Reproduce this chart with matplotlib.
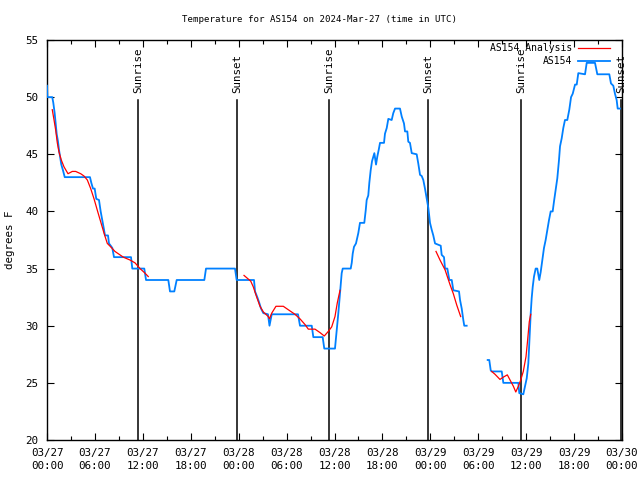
import numpy as np
import matplotlib
matplotlib.use("Agg")
import matplotlib.pyplot as plt
from matplotlib.ticker import MultipleLocator

# hours since 2024-03-27 00:00 UTC
obs_hours = [0.0, 0.05, 0.66, 0.79, 0.96, 1.09, 1.21, 1.38, 1.50, 1.63, 1.79, 2.0, 2.22,
             5.38, 5.55, 5.76, 5.97, 6.17, 6.51, 6.72, 6.92, 7.14, 7.26, 7.64, 7.76, 7.98,
             8.18, 8.39, 10.52, 10.68, 12.18, 12.40, 15.19, 15.40, 15.94, 16.24, 19.70,
             19.91, 23.54, 23.75, 25.92, 26.05, 26.33, 26.58, 26.80, 27.09, 27.67, 27.86,
             28.14, 31.43, 31.68, 33.15, 33.35, 34.52, 34.72, 36.06, 36.28, 36.48, 36.69,
             36.90, 37.03, 38.03, 38.16, 38.28, 38.44, 38.69, 38.98, 39.19, 39.73, 39.91,
             40.03, 40.23, 40.36, 40.53, 40.70, 40.86, 40.99, 41.20, 41.36, 41.54, 41.70,
             42.20, 42.32, 42.54, 42.74, 43.16, 43.36, 43.58, 44.20, 44.42, 44.70, 44.83,
             45.12, 45.24, 45.45, 45.67, 46.29, 46.49, 46.71, 46.92, 47.12, 47.33, 47.55,
             47.75, 47.96, 48.17, 48.37, 48.59, 49.30, 49.42, 49.71, 49.84, 50.13, 50.38,
             50.68, 50.88, 51.59, 51.72, 51.93, 52.13, 52.25, 52.55, 53.8,
             55.18, 55.38, 55.56, 55.68, 56.94, 57.14, 59.02, 59.14, 59.64, 59.85, 60.07,
             60.27, 60.39, 60.57, 60.69, 60.82, 60.98, 61.19, 61.39, 61.64, 61.82, 62.02,
             62.23, 62.44, 62.65, 62.86, 63.07, 63.32, 63.49, 63.70, 63.90, 64.11, 64.24,
             64.45, 64.65, 64.86, 65.15, 65.40, 65.62, 65.83, 66.12, 66.33, 66.53, 67.37,
             67.58, 68.62, 68.91, 70.41, 70.62, 70.91, 71.12, 71.33, 71.46, 71.75]
obs_temps = [51, 50, 50, 49.5, 48.6, 47.7, 46.8, 46.1, 45.4, 44.8, 44.1, 43.6, 43,
             43, 42.5, 42, 42, 41.1, 41, 40, 39.25, 38.4, 37.9, 37.9, 37.2, 37,
             36.8, 36, 36, 35, 35, 34, 34, 33, 33, 34, 34,
             35, 35, 34, 34, 33, 32.5, 32, 31.5, 31.1, 31, 30,
             31, 31, 30, 30, 29, 29, 28, 28, 29.6, 31.1, 32.8,
             34.6, 35, 35, 35.5, 36.3, 36.9, 37.2, 38.1, 39, 39, 40.1,
             41, 41.4, 42.5, 43.6, 44.4, 44.8, 45.1, 44.1, 44.8, 45.4, 46,
             46, 46.8, 47.3, 48.1, 48, 48.6, 49, 49, 48.3, 47.7, 47,
             47, 46.1, 46, 45.1, 45, 44.2, 43.2, 43.1, 42.75, 42, 41.1,
             40.3, 39, 38.4, 37.9, 37.2, 37, 36.2, 36, 35, 35, 34,
             34, 33.1, 33, 32.25, 31.5, 30.5, 30, 30, np.nan,
             27, 27, 26.1, 26, 26, 25, 25, 24.1, 24, 24.7, 25.4,
             26.7, 28.5, 31.1, 32.4, 33.4, 34.3, 35, 35, 34, 34.7, 35.75,
             36.8, 37.5, 38.4, 39.25, 40, 40, 40.9, 41.9, 42.9, 44.5, 45.7,
             46.4, 47.3, 48, 48, 48.9, 50, 50.3, 51.1, 51.1, 52.1, 52,
             53, 53, 52, 52, 51.2, 51, 50.3, 49.75, 49, 49]

ana_hours = [0.66, 0.88, 1.09, 1.29, 1.50, 1.79, 2.13, 2.63, 3.17, 3.59, 4.22, 4.63, 5.05,
             5.47, 5.89, 6.30, 6.72, 7.14, 7.55, 7.98, 8.51, 9.55, 10.39, 11.02, 11.65,
             12.27, 12.68, 18.0,
             24.67, 25.51, 25.83, 26.26, 26.67, 27.09, 27.71, 27.86, 28.14, 28.67, 29.59,
             30.21, 31.05, 31.68, 32.31, 32.72, 33.56, 34.18, 34.72, 35.22, 35.65, 36.06,
             36.35, 36.69, 42.0,
             48.71, 49.21, 49.84, 50.46, 50.88, 51.31, 51.80, 53.5,
             55.68, 56.10, 56.72, 57.14, 57.64, 57.98, 58.40, 58.70, 59.02, 59.32, 59.64,
             59.98, 60.15, 60.39, 60.57]
ana_temps = [48.9, 48.0, 47.1, 46.0, 45.2, 44.5, 43.9, 43.3, 43.5, 43.5, 43.3, 43.1, 42.75,
             42.0, 41.1, 40.1, 39.1, 38.1, 37.2, 36.9, 36.5, 36.0, 35.75, 35.5, 35.0,
             34.6, 34.3, np.nan,
             34.4, 33.9, 33.4, 32.5, 31.7, 31.2, 30.8, 30.6, 31.1, 31.7, 31.7,
             31.4, 31.0, 30.6, 30.1, 29.7, 29.7, 29.4, 29.1, 29.5, 29.9, 30.8,
             32.0, 33.1, np.nan,
             36.5, 35.75, 34.9, 33.6, 32.8, 31.8, 30.8, np.nan,
             26.0, 25.75, 25.3, 25.5, 25.7, 25.25, 24.7, 24.2, 24.7, 25.25, 26.0,
             27.3, 28.5, 30.35, 31.0]

sun_hours = [11.39, 23.79, 35.31, 47.71, 59.35, 71.88]
sun_labels = ["Sunrise", "Sunset", "Sunrise", "Sunset", "Sunrise", "Sunset"]

xtick_hours = list(range(0, 73, 6))
xtick_labels = ["03/27\n00:00", "03/27\n06:00", "03/27\n12:00", "03/27\n18:00",
                "03/28\n00:00", "03/28\n06:00", "03/28\n12:00", "03/28\n18:00",
                "03/29\n00:00", "03/29\n06:00", "03/29\n12:00", "03/29\n18:00",
                "03/30\n00:00"]
yticks = [20, 25, 30, 35, 40, 45, 50, 55]

FONT = "DejaVu Sans Mono"
FS = 7.8
plt.rcParams['font.family'] = FONT

fig = plt.figure(figsize=(6.4, 4.8), dpi=100)
ax = fig.add_axes([47/640, 40/480, 575/640, 400/480])

ax.plot(ana_hours, ana_temps, color="#ff0000", lw=0.9, label="AS154 Analysis", zorder=4)
ax.plot(obs_hours, obs_temps, color="#0080ff", lw=1.3, label="AS154", zorder=3)

for h, lab in zip(sun_hours, sun_labels):
    ax.plot([h, h], [20, 49.75], color="black", lw=1.1, zorder=2)
    ax.text(h, 50.4, lab, rotation=90, ha="center", va="bottom", fontsize=FS,
            family=FONT, zorder=5)

ax.set_xlim(0, 72)
ax.set_ylim(20, 55)
ax.set_xticks(xtick_hours)
ax.set_xticklabels(xtick_labels, fontsize=FS, linespacing=1.35)
ax.xaxis.set_minor_locator(MultipleLocator(3))
ax.set_yticks(yticks)
ax.set_yticklabels([str(v) for v in yticks], fontsize=FS)
ax.tick_params(which="major", direction="in", length=5, width=0.8, top=True, right=True,
               pad=6)
ax.tick_params(which="minor", direction="in", length=3, width=0.8, top=True, right=True)
for s in ax.spines.values():
    s.set_linewidth(1.0)
    s.set_color("black")

ax.set_ylabel("degrees F", fontsize=FS, labelpad=8)
fig.text(0.5, 1 - 20/480, "Temperature for AS154 on 2024-Mar-27 (time in UTC)",
         ha="center", va="center", fontsize=6.6, family=FONT)

leg = ax.legend(loc="upper right", frameon=False, fontsize=7.0, markerfirst=False,
                handlelength=3.3, labelspacing=0.35, borderaxespad=0, borderpad=0,
                handletextpad=0.6, bbox_to_anchor=(1 - 12/575, 1 - 3/400))

fig.savefig("out.png", dpi=100)
